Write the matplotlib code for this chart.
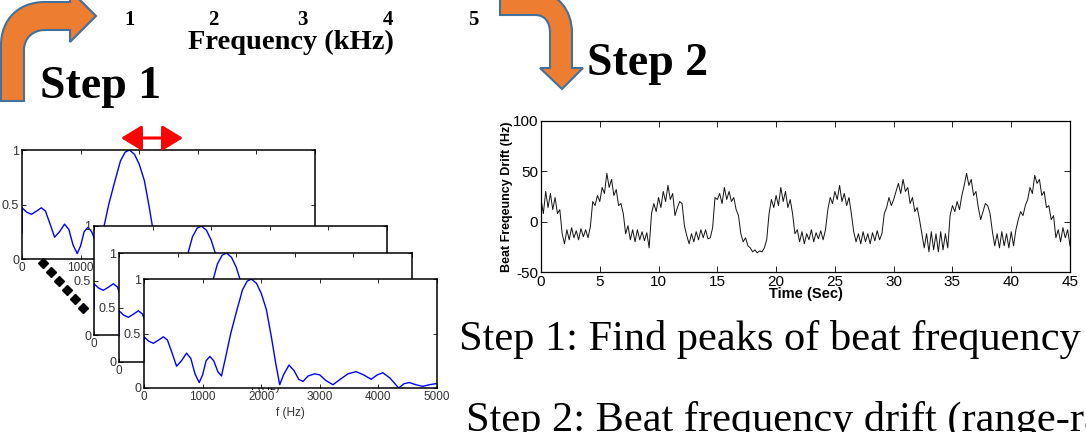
"""Beat frequency peak finding (step 1) and drift over time (step 2)"""

import matplotlib
matplotlib.use("Agg")
import matplotlib.pyplot as plt
import numpy as np
from matplotlib.path import Path
from matplotlib.patches import PathPatch

plt.rcParams["axes.unicode_minus"] = False

# data
spec_freq = [0, 0, 80, 160, 250, 330, 400, 480, 556, 640, 726, 800, 870, 942, 1000,
             1060, 1124, 1190, 1260, 1322, 1400, 1480, 1578, 1680, 1760, 1833, 1920,
             2000, 2088, 2170, 2250, 2316, 2380, 2474, 2560, 2640, 2713, 2800, 2911,
             3000, 3100, 3224, 3350, 3480, 3621, 3750, 3876, 3980, 4075, 4200, 4347,
             4440, 4529, 4640, 4756, 4870, 4983, 5000]
spec_amp = [0.24, 0.47, 0.43, 0.41, 0.44, 0.47, 0.44, 0.32, 0.20, 0.25, 0.32, 0.27, 0.13,
            0.05, 0.12, 0.25, 0.29, 0.25, 0.15, 0.11, 0.30, 0.50, 0.70, 0.90, 0.98, 1.00,
            0.96, 0.87, 0.72, 0.48, 0.22, 0.03, 0.12, 0.21, 0.16, 0.08, 0.06, 0.11, 0.13,
            0.12, 0.07, 0.03, 0.08, 0.13, 0.15, 0.12, 0.08, 0.12, 0.14, 0.09, 0.00,
            0.04, 0.05, 0.03, 0.015, 0.03, 0.04, 0.04]

# beat frequency drift (Hz), one value every 0.2 s from 0 to 45 s
drift = [22, 8, 30, 14, 28, 12, 24, 8, 12, -12,
         -22, -8, -18, -6, -16, -9, -18, -7, -15, -8,
         -16, -5, 20, 16, 26, 20, 34, 28, 48, 34,
         42, 26, 32, 16, 18, 8, -12, -4, -18, -8,
         -20, -8, -18, -10, -19, -11, -26, 8, 18, 10,
         24, 14, 30, 20, 36, 22, 28, 6, 14, 20,
         18, -4, -14, -22, -12, -20, -10, -18, -8, -16,
         -8, -17, -16, -6, 24, 22, 28, 18, 34, 22,
         30, 20, 24, 12, 6, -12, -20, -16, -24, -26,
         -30, -28, -31, -29, -30, -26, -18, 8, 22, 14,
         26, 16, 34, 20, 30, 14, 22, 8, -12, -8,
         -20, -10, -22, -12, -18, -8, -20, -11, -17, -9,
         -18, -8, 12, 24, 18, 30, 22, 36, 20, 28,
         16, 24, 8, -10, -20, -12, -22, -10, -20, -12,
         -22, -11, -19, -9, -18, -12, 8, 14, 24, 16,
         22, 30, 38, 28, 42, 30, 34, 18, 24, 10,
         14, 2, -12, -26, -12, -30, -10, -28, -12, -30,
         -10, -28, -12, -26, 6, 16, 10, 20, 12, 26,
         36, 48, 36, 42, 26, 30, 14, 2, 10, 18,
         16, 8, -10, -24, -12, -26, -10, -24, -12, -26,
         -10, -24, -8, 2, 10, 6, 16, 22, 34, 28,
         46, 38, 42, 26, 30, 14, 16, 2, 6, -16,
         -8, -20, -6, -16, -8, -24]
drift_time = np.linspace(0, 45, len(drift))

freq_ticks = [0, 1000, 2000, 3000, 4000, 5000]
amp_ticks = [0, 0.5, 1]
amp_ticklabels = ["0", "0.5", "1"]
time_ticks = [0, 5, 10, 15, 20, 25, 30, 35, 40, 45]
drift_ticks = [-50, 0, 50, 100]
khz_labels = ["1", "2", "3", "4", "5"]

# layout (pixels)
W, H = 1086, 432
SANS = "Liberation Sans"
SERIF = "Liberation Serif"
orange, edge_blue = "#ED7D31", "#41719C"


def px_axes(fig, left, top, w, h, **kw):
  return fig.add_axes([left / W, 1 - (top + h) / H, w / W, h / H], **kw)


fig = plt.figure(figsize=(W / 100, H / 100), dpi=100)

# step 1: stacked spectra
panel_origins = [(22, 150), (94, 226), (119, 253), (144, 279)]
for i, (lft, top) in enumerate(panel_origins):
  ax = px_axes(fig, lft, top, 293, 109, zorder=i + 1)
  ax.plot(spec_freq, spec_amp, color="#0000FF", lw=1.0)
  ax.set_xlim(0, 5000)
  ax.set_ylim(0, 1)
  ax.set_xticks(freq_ticks)
  ax.set_xticklabels([str(f) for f in freq_ticks], fontsize=8.5, family=SANS, color="#333333")
  ax.set_yticks(amp_ticks)
  ax.set_yticklabels(amp_ticklabels, fontsize=9, family=SANS, color="#333333")
  ax.tick_params(direction="in", top=True, right=True, length=3, width=0.6, pad=2)
  ax.set_xlabel("f (Hz)", fontsize=8.5, family=SANS, color="#333333", labelpad=3)
  for sp in ax.spines.values():
    sp.set_linewidth(1.1)

# step 2: drift over time
ax2 = px_axes(fig, 541, 121, 529, 151, zorder=1)
ax2.plot(drift_time, drift, color="#111111", lw=0.7)
ax2.set_xlim(0, 45)
ax2.set_ylim(-50, 100)
ax2.set_xticks(time_ticks)
ax2.set_yticks(drift_ticks)
ax2.tick_params(direction="in", top=True, right=True, length=4, width=0.6, labelsize=11)
ax2.tick_params(axis="x", pad=2)
ax2.tick_params(axis="y", pad=2)
for lbl in ax2.get_xticklabels() + ax2.get_yticklabels():
  lbl.set_family(SANS)
ax2.set_xlabel("Time (Sec)", fontsize=10.5, family=SANS, fontweight="bold", labelpad=-1)
ax2.set_ylabel("Beat Freqeuncy Drift (Hz)", fontsize=9, family=SANS, fontweight="bold", labelpad=0)
for sp in ax2.spines.values():
  sp.set_linewidth(0.9)

# overlay for arrows and captions, pixel coordinates with y pointing down
ov = fig.add_axes([0, 0, 1, 1], zorder=10)
ov.set_xlim(0, W)
ov.set_ylim(H, 0)
ov.axis("off")

C = Path.CURVE4
arrow1 = [(1, 101), (1, 45), (1, 20), (18, 2), (45, 2), (70, 2), (70, -10), (96, 16),
          (70, 42), (70, 30), (45, 30), (33, 30), (24, 38), (24, 50), (24, 101), (1, 101)]
codes1 = [Path.MOVETO, Path.LINETO, C, C, C, Path.LINETO, Path.LINETO, Path.LINETO,
          Path.LINETO, Path.LINETO, Path.LINETO, C, C, C, Path.LINETO, Path.CLOSEPOLY]
arrow2 = [(500, -8), (535, -8), (558, -8), (572, 10), (572, 33), (572, 68), (583, 68),
          (562, 89), (540, 68), (550, 68), (550, 33), (550, 22), (545, 15), (535, 15),
          (500, 15), (500, -8)]
codes2 = [Path.MOVETO, Path.LINETO, C, C, C, Path.LINETO, Path.LINETO, Path.LINETO,
          Path.LINETO, Path.LINETO, Path.LINETO, C, C, C, Path.LINETO, Path.CLOSEPOLY]
for verts, codes in [(arrow1, codes1), (arrow2, codes2)]:
  ov.add_patch(PathPatch(Path(verts, codes), facecolor=orange, edgecolor=edge_blue, lw=1.5))

# red range arrow and dotted diagonal
ov.annotate("", xy=(183, 138), xytext=(121, 138),
            arrowprops=dict(arrowstyle="<|-|>,head_length=0.9,head_width=0.55",
                            color="red", lw=2.2, shrinkA=0, shrinkB=0, mutation_scale=14))
ov.plot(np.linspace(43, 83, 6), np.linspace(263, 308, 6), "D", color="black", ms=5.2, ls="none")

# captions
for lbl, x in zip(khz_labels, [130, 213, 302, 388, 473]):
  ov.text(x, 25, lbl, ha="center", va="baseline", fontsize=15, family=SERIF, fontweight="bold")
ov.text(188, 49, "Frequency (kHz)", ha="left", va="baseline", fontsize=20.5, family=SERIF,
        fontweight="bold")
ov.text(40, 98, "Step 1", ha="left", va="baseline", fontsize=33, family=SERIF, fontweight="bold")
ov.text(587, 75, "Step 2", ha="left", va="baseline", fontsize=33, family=SERIF, fontweight="bold")
ov.text(459, 350, "Step 1: Find peaks of beat frequency", ha="left", va="baseline",
        fontsize=30.5, family=SERIF)
ov.text(466, 431, "Step 2: Beat frequency drift (range-rate)", ha="left", va="baseline",
        fontsize=30.5, family=SERIF)

plt.savefig("out.png", dpi=100)
